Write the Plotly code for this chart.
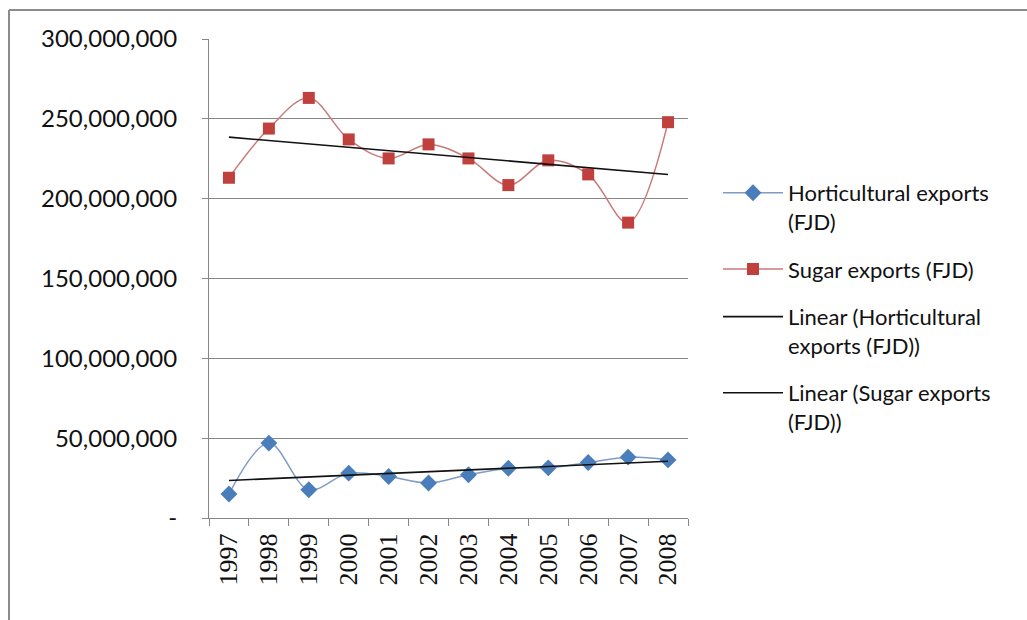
import numpy as np
import plotly.graph_objects as go

# Export values in Fiji dollars, 1997-2008
years = ["1997", "1998", "1999", "2000", "2001", "2002",
         "2003", "2004", "2005", "2006", "2007", "2008"]
horticultural = [15.0e6, 46.9e6, 17.7e6, 28.1e6, 26.0e6, 21.9e6,
                 27.1e6, 31.2e6, 31.4e6, 34.8e6, 38.1e6, 36.4e6]
sugar = [213.1e6, 243.9e6, 263.1e6, 237.1e6, 225.2e6, 234.0e6,
         225.2e6, 208.5e6, 224.0e6, 215.2e6, 185.0e6, 247.9e6]

y_tick_values = [0, 50e6, 100e6, 150e6, 200e6, 250e6, 300e6]
y_tick_labels = ["-", "50,000,000", "100,000,000", "150,000,000",
                 "200,000,000", "250,000,000", "300,000,000"]

names = ["Horticultural exports<br>(FJD)", "Sugar exports (FJD)",
         "Linear (Horticultural<br>exports (FJD))", "Linear (Sugar exports<br>(FJD))"]


def linear_fit(values):
    idx = np.arange(len(values))
    slope, intercept = np.polyfit(idx, values, 1)
    return list(slope * idx + intercept)


fig = go.Figure()

fig.add_trace(go.Scatter(
    x=years, y=horticultural, name=names[0], legendgroup="a",
    mode="lines+markers", line=dict(color="#7f9cc6", width=1.5, shape="spline"),
    marker=dict(symbol="diamond", size=13, color="#4a7ebb"),
))
fig.add_trace(go.Scatter(
    x=years, y=sugar, name=names[1], legendgroup="b",
    mode="lines+markers", line=dict(color="#c97a78", width=1.5, shape="spline"),
    marker=dict(symbol="square", size=12, color="#c0403d"),
))
fig.add_trace(go.Scatter(
    x=years, y=linear_fit(horticultural), name=names[2], legendgroup="c",
    mode="lines", line=dict(color="#111111", width=1.6),
))
fig.add_trace(go.Scatter(
    x=years, y=linear_fit(sugar), name=names[3], legendgroup="d",
    mode="lines", line=dict(color="#111111", width=1.6),
))

L, R, T, B = 209, 339, 39, 102
W, H = 1027, 620
pw, ph = W - L - R, H - T - B


def px_x(v):
    return (v - L) / pw


def px_y(v):
    return 1 - (v - T) / ph


# outer chart frame (top and left edges)
frame = dict(color="#8c8c8c", width=2)
fig.add_shape(type="line", xref="paper", yref="paper",
              x0=px_x(9), x1=px_x(W + 5), y0=px_y(10), y1=px_y(10), line=frame)
fig.add_shape(type="line", xref="paper", yref="paper",
              x0=px_x(9), x1=px_x(9), y0=px_y(10), y1=px_y(H + 5), line=frame)

fig.update_layout(
    width=W, height=H,
    margin=dict(l=L, r=R, t=T, b=B),
    paper_bgcolor="white", plot_bgcolor="white",
    font=dict(family="Lato, Noto Sans, sans-serif", color="#111111"),
    showlegend=True,
    legend=dict(
        x=px_x(718), y=px_y(172), xanchor="left", yanchor="top",
        font=dict(size=22, family="Lato, sans-serif", color="#111111"),
        tracegroupgap=16, bgcolor="rgba(0,0,0,0)",
        valign="top", itemwidth=60,
    ),
)

fig.update_xaxes(
    type="category", range=[-0.5, 11.5],
    showgrid=False, showline=True, linecolor="#868686", linewidth=1,
    ticks="outside", ticklen=7, tickcolor="#868686", tickson="boundaries",
    tickangle=-90, tickfont=dict(family="Liberation Serif, serif", size=26, color="#111111"),
    ticklabelstandoff=4,
)
fig.update_yaxes(
    range=[0, 300e6], tickvals=y_tick_values, ticktext=y_tick_labels,
    showgrid=True, gridcolor="#868686", gridwidth=1,
    showline=True, linecolor="#868686", linewidth=1,
    ticks="outside", ticklen=6, tickcolor="#868686",
    tickfont=dict(family="Lato, sans-serif", size=24, color="#111111"),
    ticklabelstandoff=20, zeroline=False,
)

fig.write_html("out.html")
